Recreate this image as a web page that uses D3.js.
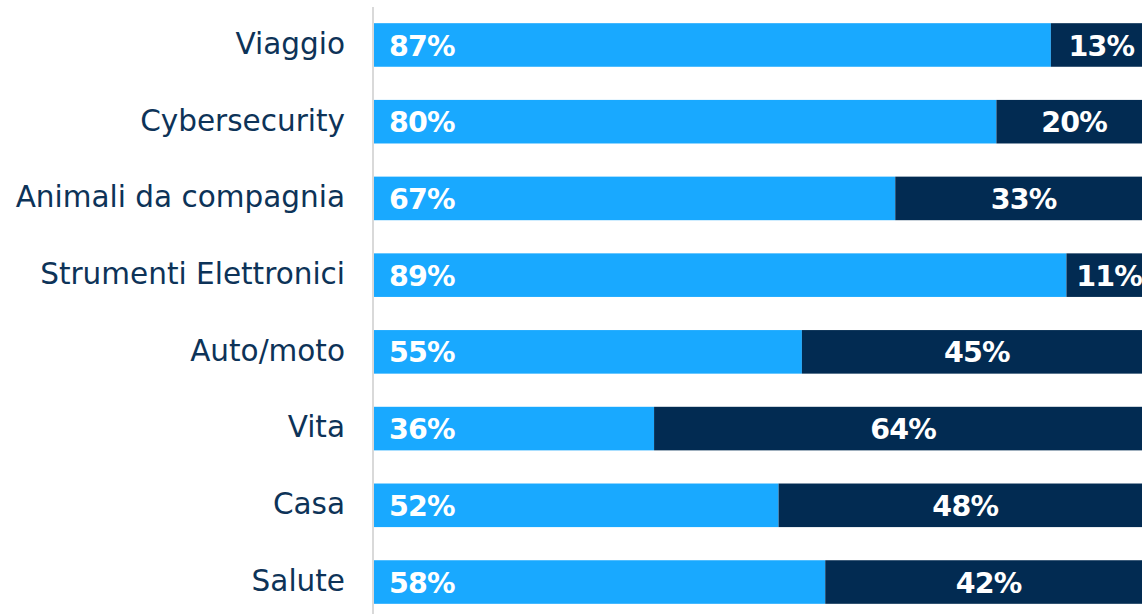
<!DOCTYPE html>
<html>
<head>
<meta charset="utf-8">
<script src="https://cdn.jsdelivr.net/npm/d3@7"></script>
<style>
  body { margin: 0; background: #fff; }
  svg { display: block; }
</style>
</head>
<body>
<svg id="chart" width="1142" height="614"></svg>
<script>
// data
const categories = ["Viaggio", "Cybersecurity", "Animali da compagnia", "Strumenti Elettronici", "Auto/moto", "Vita", "Casa", "Salute"]
const yesValues = [87, 80, 67, 89, 55, 36, 52, 58]
const noValues = [13, 20, 33, 11, 45, 64, 48, 42]

const colors = { yes: "#19a9ff", no: "#022b52" }
const fontFam = "'DejaVu Sans', sans-serif"

const svg = d3.select("#chart")

//scales
const x = d3.scaleLinear().domain([0, 100]).range([374, 1152])
const y = d3.scaleBand()
  .domain(categories)
  .range([6, 621])
  .paddingInner(0.432)
  .paddingOuter(0.224)

const rows = categories.map((c, i) => ({ cat: c, yes: yesValues[i], no: noValues[i] }))

//asse verticale
svg.append("line")
  .attr("x1", 373).attr("x2", 373)
  .attr("y1", 7).attr("y2", 614)
  .attr("stroke", "#d9d9d9")
  .attr("stroke-width", 2)

const g = svg.selectAll("g.row")
  .data(rows)
  .join("g")
  .attr("class", "row")
  .attr("transform", (d) => "translate(0," + y(d.cat) + ")")

g.append("rect")
  .attr("x", x(0))
  .attr("width", (d) => x(d.yes) - x(0))
  .attr("height", y.bandwidth())
  .attr("fill", colors.yes)

g.append("rect")
  .attr("x", (d) => x(d.yes))
  .attr("width", (d) => x(d.yes + d.no) - x(d.yes))
  .attr("height", y.bandwidth())
  .attr("fill", colors.no)

//etichette categorie
g.append("text")
  .attr("x", 345)
  .attr("y", y.bandwidth() / 2)
  .attr("dy", "0.3em")
  .attr("text-anchor", "end")
  .attr("fill", "#0d3358")
  .style("font-family", fontFam)
  .style("font-size", "29.5px")
  .text((d) => d.cat)

//valori
g.append("text")
  .attr("x", x(0) + 15)
  .attr("y", y.bandwidth() / 2)
  .attr("dy", "0.37em")
  .attr("fill", "#fff")
  .style("font-family", fontFam)
  .style("font-weight", "bold")
  .style("font-size", "28.5px")
  .style("letter-spacing", "-0.8px")
  .text((d) => d.yes + "%")

g.append("text")
  .attr("x", (d) => (x(d.yes) + x(d.yes + d.no)) / 2)
  .attr("y", y.bandwidth() / 2)
  .attr("dy", "0.37em")
  .attr("text-anchor", "middle")
  .attr("fill", "#fff")
  .style("font-family", fontFam)
  .style("font-weight", "bold")
  .style("font-size", "28.5px")
  .style("letter-spacing", "-0.8px")
  .text((d) => d.no + "%")
</script>
</body>
</html>
